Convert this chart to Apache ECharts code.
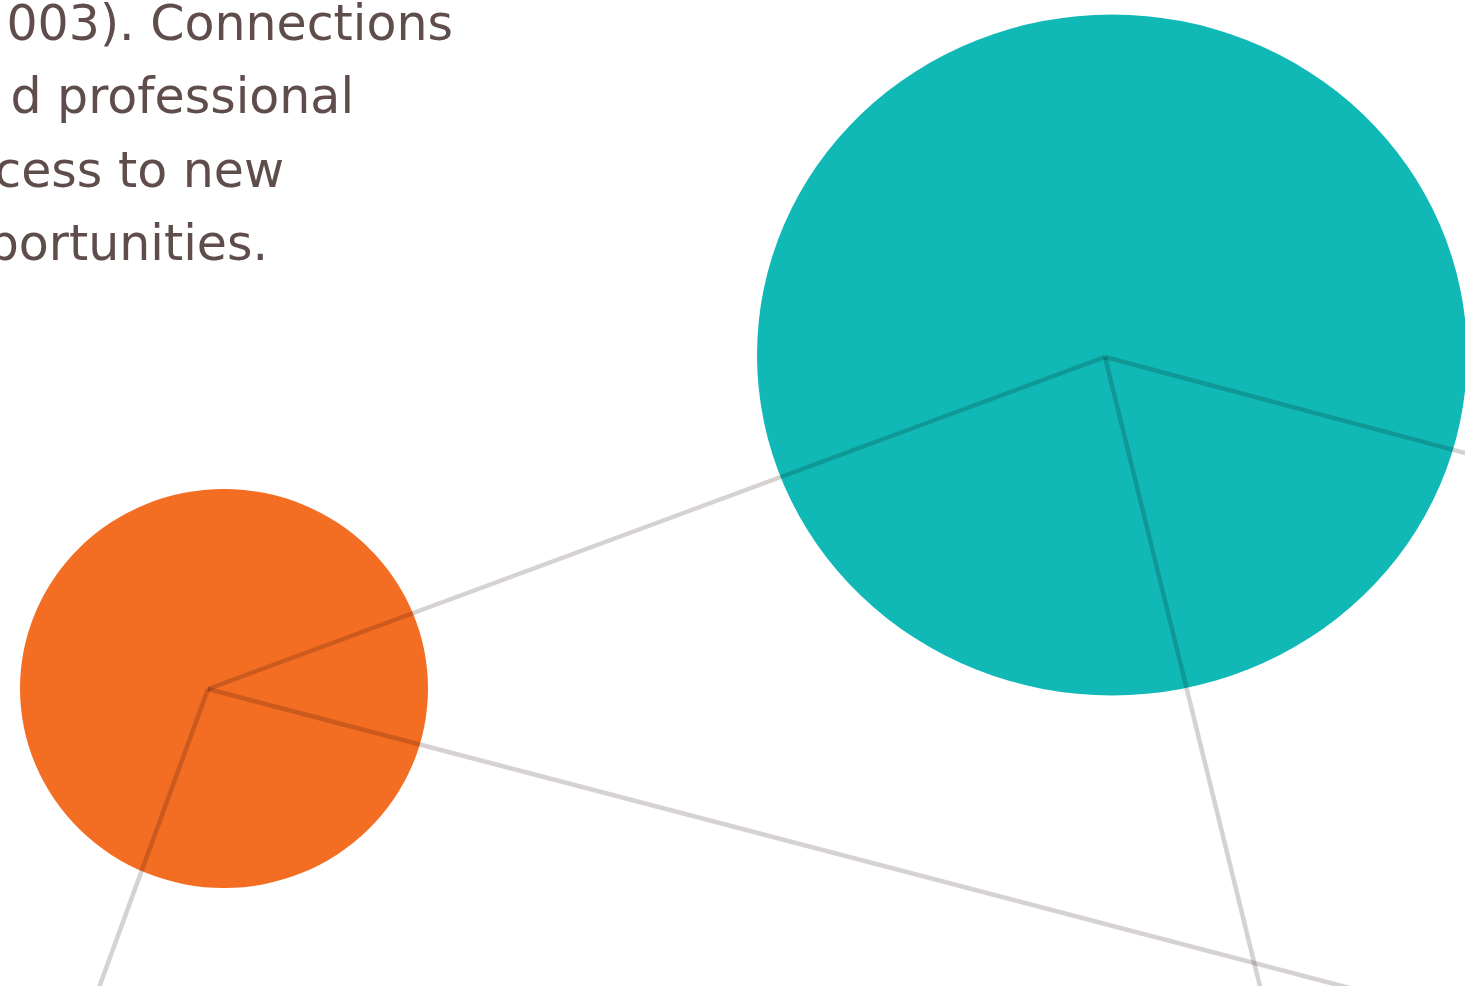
<!DOCTYPE html>
<html>
<head>
<meta charset="utf-8">
<script src="https://cdn.jsdelivr.net/npm/echarts@6/dist/echarts.min.js"></script>
<style>
html,body{margin:0;padding:0;background:#fff;}
#chart{width:1465px;height:986px;}
</style>
</head>
<body>
<div id="chart"></div>
<script>
// Nodes (hub points and off-frame link endpoints)
const nodeNames = ['hubOrange', 'hubTeal', 'nodeC', 'nodeD', 'nodeE', 'nodeF'];
const nodeX = [208, 1105, 1720, 58, 1720, 1288];
const nodeY = [689, 357, 1085, 1100, 521, 1100];
// Links between nodes (index pairs)
const linkSource = [0, 0, 0, 1, 1];
const linkTarget = [1, 2, 3, 4, 5];
// Bubbles
const bubbleNames = ['orange', 'teal'];
const bubbleX = [224, 1112];
const bubbleY = [688.5, 355];
const bubbleW = [408, 710];
const bubbleH = [399, 681];
const bubbleColors = ['#f36d23', '#10b9b6'];
// Text fragments
const textLines = ['003). Connections', 'd professional', 'cess to new', 'portunities.'];
const textRight = [453, 354, 284, 268];

const chart = echarts.init(document.getElementById('chart'), null, {renderer: 'canvas'});

const bubbleData = bubbleNames.map((n, i) => ({
  name: n,
  value: [bubbleX[i], bubbleY[i]],
  symbolSize: [bubbleW[i], bubbleH[i]],
  itemStyle: {color: bubbleColors[i], opacity: 1}
}));

const linkData = linkSource.map((s, i) => ({
  coords: [[nodeX[s], nodeY[s]], [nodeX[linkTarget[i]], nodeY[linkTarget[i]]]]
}));

const graphicTexts = textLines.map((t, i) => ({
  type: 'text',
  right: 1465 - textRight[i],
  top: 2.5 + i * 73.5,
  style: {
    text: t,
    font: 'normal 49px "DejaVu Sans"',
    fill: '#5e4d4b',
    textAlign: 'right'
  }
}));

chart.setOption({
  animation: false,
  backgroundColor: '#ffffff',
  grid: {left: 0, right: 0, top: 0, bottom: 0},
  xAxis: {type: 'value', min: 0, max: 1465, show: false},
  yAxis: {type: 'value', min: 0, max: 986, inverse: true, show: false},
  graphic: graphicTexts,
  series: [
    {
      type: 'scatter',
      symbol: 'circle',
      clip: false,
      silent: true,
      z: 1,
      itemStyle: {opacity: 1},
      data: bubbleData
    },
    {
      type: 'lines',
      coordinateSystem: 'cartesian2d',
      clip: false,
      silent: true,
      z: 2,
      blendMode: 'multiply',
      lineStyle: {color: '#d6d2d2', width: 4.5, opacity: 1, curveness: 0},
      data: linkData
    }
  ]
});
</script>
</body>
</html>
